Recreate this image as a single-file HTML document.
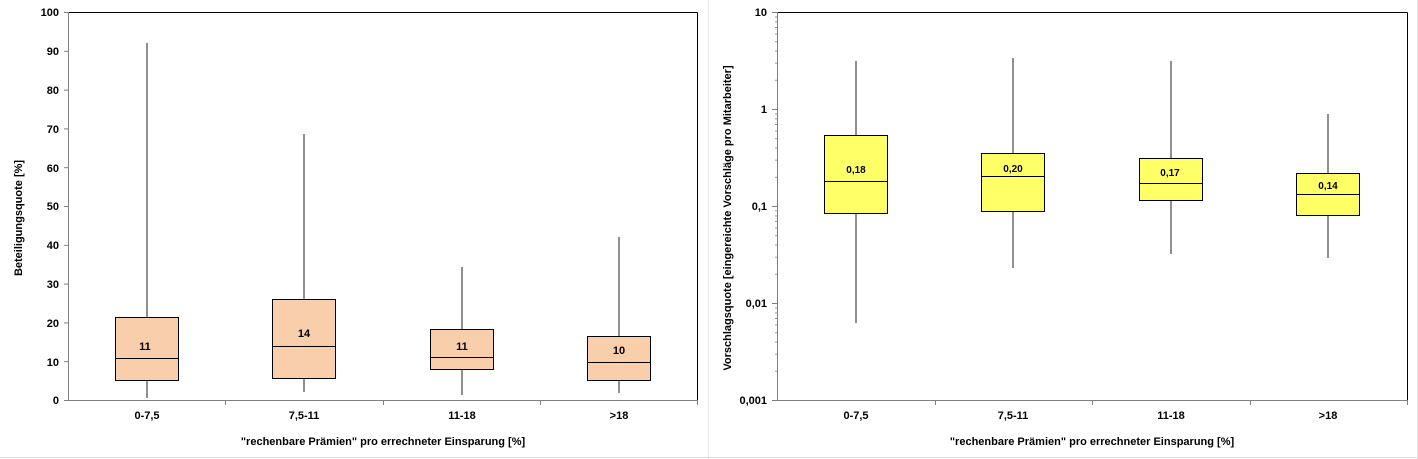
<!DOCTYPE html>
<html><head><meta charset="utf-8"><style>
html,body{margin:0;padding:0;background:#fff;}
svg{display:block;font-family:"Liberation Sans",Arial,sans-serif;}
</style></head><body>
<svg width="1418" height="459" viewBox="0 0 1418 459" xmlns="http://www.w3.org/2000/svg">
<rect x="0" y="0" width="1418" height="459" fill="#fff"/>
<line x1="0" y1="457.5" x2="1418" y2="457.5" stroke="#ddd"/>
<line x1="708.5" y1="0" x2="708.5" y2="459" stroke="#e6e6e6"/>
<line x1="1417.5" y1="0" x2="1417.5" y2="459" stroke="#e6e6e6"/>

<!-- LEFT CHART -->
<g stroke="#000" fill="none">
<line x1="68.5" y1="12.5" x2="697.5" y2="12.5"/>
<line x1="697.5" y1="12.5" x2="697.5" y2="400.5"/>
</g>
<g stroke="#808080" fill="none">
<line x1="68.5" y1="12" x2="68.5" y2="401"/>
<line x1="68" y1="400.5" x2="698" y2="400.5"/>
<line x1="64" y1="12.5" x2="68" y2="12.5"/><line x1="64" y1="51.3" x2="68" y2="51.3"/><line x1="64" y1="90.1" x2="68" y2="90.1"/><line x1="64" y1="128.9" x2="68" y2="128.9"/><line x1="64" y1="167.7" x2="68" y2="167.7"/><line x1="64" y1="206.5" x2="68" y2="206.5"/><line x1="64" y1="245.3" x2="68" y2="245.3"/><line x1="64" y1="284.1" x2="68" y2="284.1"/><line x1="64" y1="322.9" x2="68" y2="322.9"/><line x1="64" y1="361.7" x2="68" y2="361.7"/><line x1="64" y1="400.5" x2="68" y2="400.5"/>
<line x1="225.5" y1="400" x2="225.5" y2="405"/><line x1="383.5" y1="400" x2="383.5" y2="405"/><line x1="540.5" y1="400" x2="540.5" y2="405"/><line x1="697.5" y1="400" x2="697.5" y2="405"/>
</g>
<g font-size="11" font-weight="bold" text-anchor="end" fill="#000">
<text x="59" y="16">100</text><text x="59" y="55">90</text><text x="59" y="94">80</text><text x="59" y="133">70</text><text x="59" y="172">60</text><text x="59" y="210">50</text><text x="59" y="249">40</text><text x="59" y="288">30</text><text x="59" y="327">20</text><text x="59" y="366">10</text><text x="59" y="404">0</text>
</g>
<text transform="translate(22,218) rotate(-90)" font-size="11" font-weight="bold" text-anchor="middle">Beteiligungsquote [%]</text>
<g font-size="11" font-weight="bold" text-anchor="middle">
<text x="147" y="419">0-7,5</text><text x="304" y="419">7,5-11</text><text x="462" y="419">11-18</text><text x="619" y="419">&gt;18</text>
<text x="383" y="445">"rechenbare Prämien" pro errechneter Einsparung [%]</text>
</g>
<g stroke="#555" stroke-width="1.3">
<line x1="147" y1="43" x2="147" y2="398"/><line x1="304" y1="134" x2="304" y2="392"/><line x1="462" y1="267" x2="462" y2="395"/><line x1="619" y1="237" x2="619" y2="393"/>
</g>
<g fill="#F9CFAB" stroke="#000" stroke-width="1">
<rect x="115.5" y="317.5" width="63" height="63"/>
<rect x="272.5" y="299.5" width="63" height="79"/>
<rect x="430.5" y="329.5" width="63" height="40"/>
<rect x="587.5" y="336.5" width="63" height="44"/>
</g>
<g stroke="#000"><line x1="115" y1="358.5" x2="179" y2="358.5"/><line x1="272" y1="346.5" x2="336" y2="346.5"/><line x1="430" y1="357.5" x2="494" y2="357.5"/><line x1="587" y1="362.5" x2="651" y2="362.5"/></g>
<g font-size="11" font-weight="bold" text-anchor="middle">
<text x="145" y="350">11</text><text x="304" y="337">14</text><text x="462" y="350">11</text><text x="619" y="354">10</text>
</g>

<!-- RIGHT CHART -->
<g stroke="#000" fill="none">
<line x1="777.5" y1="12.5" x2="1407.5" y2="12.5"/>
<line x1="1407.5" y1="12.5" x2="1407.5" y2="400.5"/>
</g>
<g stroke="#808080" fill="none">
<line x1="777.5" y1="12" x2="777.5" y2="401"/>
<line x1="777" y1="400.5" x2="1408" y2="400.5"/>
<line x1="772" y1="12.5" x2="777" y2="12.5"/><line x1="772" y1="109.5" x2="777" y2="109.5"/><line x1="772" y1="206.5" x2="777" y2="206.5"/><line x1="772" y1="303.5" x2="777" y2="303.5"/><line x1="772" y1="400.5" x2="777" y2="400.5"/>
<line x1="935.5" y1="400" x2="935.5" y2="405"/><line x1="1092.5" y1="400" x2="1092.5" y2="405"/><line x1="1250.5" y1="400" x2="1250.5" y2="405"/><line x1="1407.5" y1="400" x2="1407.5" y2="405"/>
</g>
<g stroke="#999" id="minor">
<line x1="775" y1="371.3" x2="777" y2="371.3"/><line x1="775" y1="354.2" x2="777" y2="354.2"/><line x1="775" y1="342.1" x2="777" y2="342.1"/><line x1="775" y1="332.7" x2="777" y2="332.7"/><line x1="775" y1="325.0" x2="777" y2="325.0"/><line x1="775" y1="318.5" x2="777" y2="318.5"/><line x1="775" y1="312.9" x2="777" y2="312.9"/><line x1="775" y1="307.9" x2="777" y2="307.9"/>
</g>
<use href="#minor" transform="translate(0,-97)"/>
<use href="#minor" transform="translate(0,-194)"/>
<use href="#minor" transform="translate(0,-291)"/>
<g font-size="11" font-weight="bold" text-anchor="end" fill="#000">
<text x="767" y="16">10</text><text x="767" y="113">1</text><text x="767" y="210">0,1</text><text x="767" y="307">0,01</text><text x="767" y="404">0,001</text>
</g>
<text transform="translate(731,218) rotate(-90)" font-size="11" font-weight="bold" text-anchor="middle">Vorschlagsquote [eingereichte Vorschläge pro Mitarbeiter]</text>
<g font-size="11" font-weight="bold" text-anchor="middle">
<text x="856" y="419">0-7,5</text><text x="1013" y="419">7,5-11</text><text x="1171" y="419">11-18</text><text x="1328" y="419">&gt;18</text>
<text x="1092" y="445">"rechenbare Prämien" pro errechneter Einsparung [%]</text>
</g>
<g stroke="#555" stroke-width="1.3">
<line x1="856" y1="61" x2="856" y2="323"/><line x1="1013" y1="58" x2="1013" y2="268"/><line x1="1171" y1="61" x2="1171" y2="254"/><line x1="1328" y1="114" x2="1328" y2="258"/>
</g>
<g fill="#FFFF66" stroke="#000" stroke-width="1">
<rect x="824.5" y="135.5" width="63" height="78"/>
<rect x="981.5" y="153.5" width="63" height="58"/>
<rect x="1139.5" y="158.5" width="63" height="42"/>
<rect x="1296.5" y="173.5" width="63" height="42"/>
</g>
<g stroke="#000"><line x1="824" y1="181.5" x2="888" y2="181.5"/><line x1="981" y1="176.5" x2="1045" y2="176.5"/><line x1="1139" y1="183.5" x2="1203" y2="183.5"/><line x1="1296" y1="194.5" x2="1360" y2="194.5"/></g>
<g font-size="10" font-weight="bold" text-anchor="middle">
<text x="856" y="173">0,18</text><text x="1013" y="172">0,20</text><text x="1170" y="176">0,17</text><text x="1328" y="189">0,14</text>
</g>
</svg>
</body></html>
